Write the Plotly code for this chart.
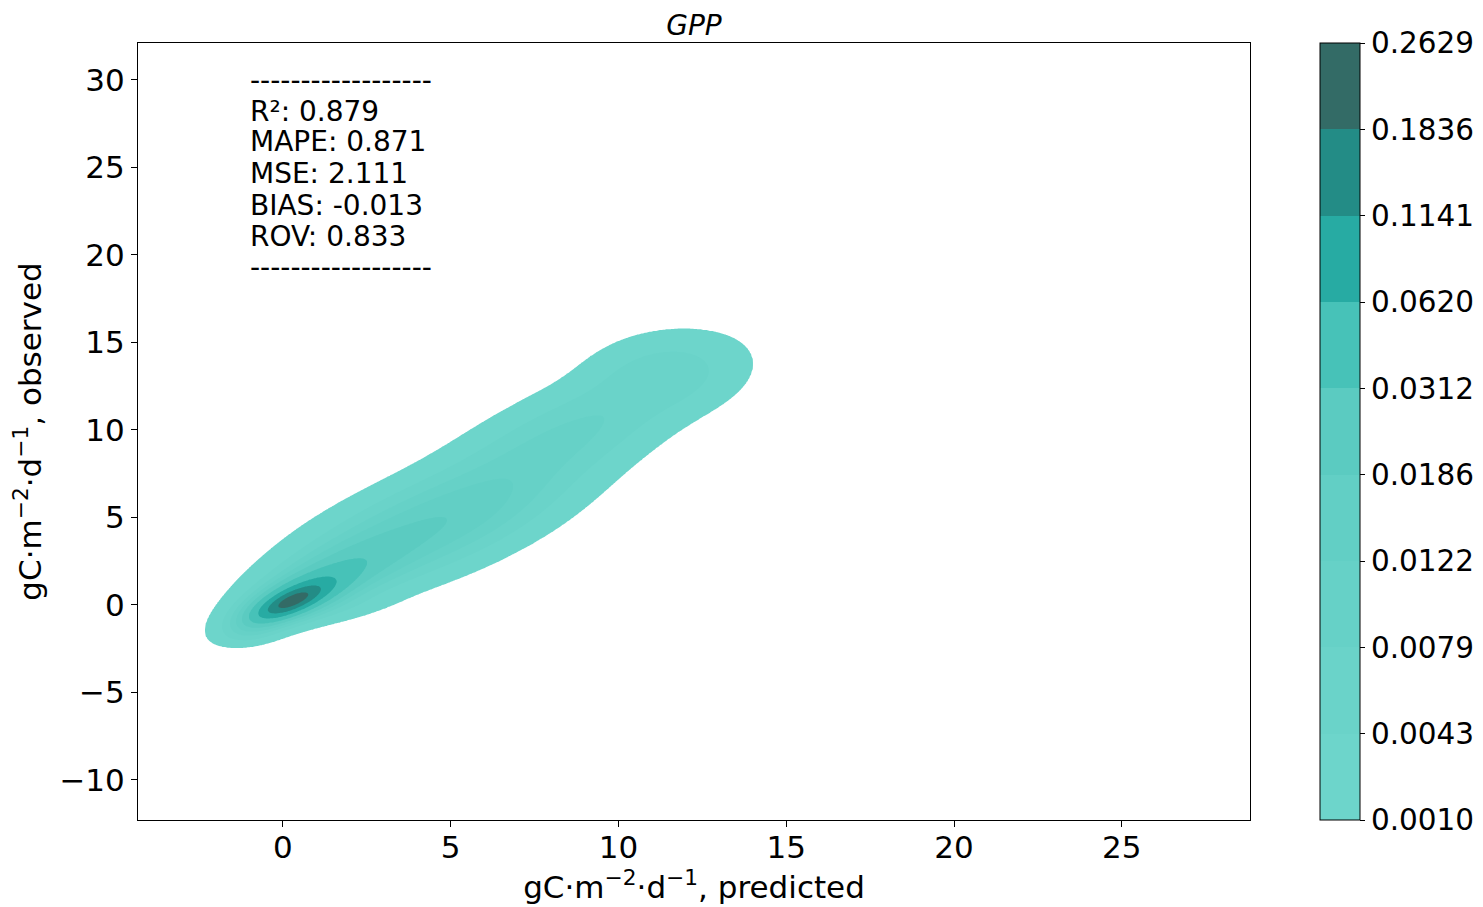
import numpy as np
import plotly.graph_objects as go

# ---------------- data ----------------
levels = [0.0010, 0.0043, 0.0079, 0.0122, 0.0186, 0.0312, 0.0620, 0.1141, 0.1836, 0.2629]
level_labels = ["0.0010", "0.0043", "0.0079", "0.0122", "0.0186", "0.0312",
                "0.0620", "0.1141", "0.1836", "0.2629"]
band_colors = ["#6dd5cb", "#6ad3c9", "#66d1c7", "#62cfc5", "#5bcbc1",
               "#47c2b8", "#27aba3", "#238c86", "#336b66"]

# density components (kernel density estimate approximated as a sum of
# rotated gaussian bumps, read from the shape of the filled contours)
comp_cx = [0.25, 0.45, 1.6, 4.4, 8.4, 11.4, -0.9, 1.4]
comp_cy = [0.20, 0.45, 1.8, 4.5, 9.6, 13.3, -1.5, -0.2]
comp_su = [0.70, 1.15, 1.8, 2.8, 3.0, 1.4, 0.6, 1.1]
comp_sv = [0.28, 0.48, 0.75, 1.2, 1.15, 1.2, 0.4, 0.45]
comp_ang = [45, 45, 45, 42, 47, 45, 35, 20]
comp_amp = [0.15, 0.075, 0.022, 0.017, 0.0085, 0.005, 0.004, 0.002]

metric_lines = ["------------------", "R²: 0.879", "MAPE: 0.871", "MSE: 2.111",
                "BIAS: -0.013", "ROV: 0.833", "------------------"]

x_ticks = [0, 5, 10, 15, 20, 25]
y_ticks = [-10, -5, 0, 5, 10, 15, 20, 25, 30]
x_range = [-4.32, 28.82]
y_range = [-12.29, 32.11]

# ---------------- density grid ----------------
gx = np.linspace(-4.0, 17.0, 421)
gy = np.linspace(-5.0, 19.0, 481)
X, Y = np.meshgrid(gx, gy)
dens = np.zeros_like(X)
for cx, cy, su, sv, ang, amp in zip(comp_cx, comp_cy, comp_su, comp_sv, comp_ang, comp_amp):
    t = np.deg2rad(ang)
    dx, dy = X - cx, Y - cy
    u = dx * np.cos(t) + dy * np.sin(t)
    v = -dx * np.sin(t) + dy * np.cos(t)
    dens += amp * np.exp(-0.5 * ((u / su) ** 2 + (v / sv) ** 2))

lev = np.array(levels)
idx = np.arange(len(levels), dtype=float)
z = np.interp(dens, lev, idx)
z = np.where(dens < lev[0], dens / lev[0] - 1.0, z)
z = np.where(dens > lev[-1], 9.0 + (dens - lev[-1]) / lev[-1], z)

# contour colorscale: background transparent, band k coloured at (k+1)/10
cs = [[0.0, "rgba(255,255,255,0)"], [0.05, "rgba(255,255,255,0)"]]
for k, c in enumerate(band_colors):
    lo = 0.05 + 0.1 * k
    hi = 0.05 + 0.1 * (k + 1) if k < len(band_colors) - 1 else 1.0
    cs.append([lo, c])
    cs.append([hi, c])

# colorbar colorscale (9 equal bands)
nb = len(band_colors)
cbs = []
for k, c in enumerate(band_colors):
    cbs.append([k / nb, c])
    cbs.append([(k + 1) / nb, c])

FONT = "DejaVu Sans"

# page body has an 8px margin: figure drawn 8px smaller, margins shifted by 8
L, T, PW, PH = 130, 35, 1112, 777
W, H = 1475, 899

fig = go.Figure()
fig.add_trace(go.Contour(
    x=gx, y=gy, z=z,
    autocontour=False,
    contours=dict(start=0, end=9, size=1, coloring="fill", showlines=False),
    line=dict(width=0),
    colorscale=cs,
    showscale=False,
    hoverinfo="skip",
))
fig.add_trace(go.Scatter(
    x=[0], y=[0], mode="markers", hoverinfo="skip", showlegend=False,
    marker=dict(size=1, opacity=0, color=[0], cmin=0, cmax=9, colorscale=cbs,
                showscale=True,
                colorbar=dict(
                    thickness=40, thicknessmode="pixels",
                    len=1, lenmode="fraction", y=0.5, yanchor="middle",
                    x=(1320 - 138) / PW, xanchor="left", xpad=0, ypad=0,
                    outlinecolor="black", outlinewidth=1,
                    tickmode="array", tickvals=list(range(10)), ticktext=level_labels,
                    ticks="outside", ticklen=5, tickcolor="black",
                    tickfont=dict(family=FONT, size=29.5, color="black"),
                )),
))

line_py = [80, 111, 142, 173, 205, 236, 267]
for txt, py in zip(metric_lines, line_py):
    fig.add_annotation(
        x=(248 - 138) / PW, y=(820 - py) / PH, xref="paper", yref="paper",
        text=txt, showarrow=False, xanchor="left", yanchor="middle",
        font=dict(family=FONT, size=28, color="black"),
    )

axis_common = dict(
    showline=True, mirror=True, linecolor="black", linewidth=1,
    ticks="outside", ticklen=6, tickcolor="black", tickwidth=1,
    showgrid=False, zeroline=False,
    tickfont=dict(family=FONT, size=31, color="black"),
)
fig.update_xaxes(range=x_range, tickmode="array", tickvals=x_ticks,
                 ticklabelstandoff=-6,
                 title=dict(text="gC·m<sup>−2</sup>·d<sup>−1</sup>, predicted",
                            font=dict(family=FONT, size=31, color="black"), standoff=6),
                 **axis_common)
fig.update_yaxes(range=y_range, tickmode="array", tickvals=y_ticks,
                 title=dict(text="gC·m<sup>−2</sup>·d<sup>−1</sup>, observed",
                            font=dict(family=FONT, size=31, color="black"), standoff=10),
                 **axis_common)

fig.update_layout(
    width=W, height=H,
    margin=dict(l=L, r=W - L - PW, t=T, b=H - T - PH, autoexpand=False),
    plot_bgcolor="white", paper_bgcolor="white",
    font=dict(family=FONT, color="black"),
    title=dict(text="<i>GPP</i>", x=(694 - 8) / W, xanchor="center",
               y=1 - (25 - 8) / H, yanchor="middle",
               font=dict(family=FONT, size=28, color="black")),
    showlegend=False,
)

fig.write_html("out.html")
